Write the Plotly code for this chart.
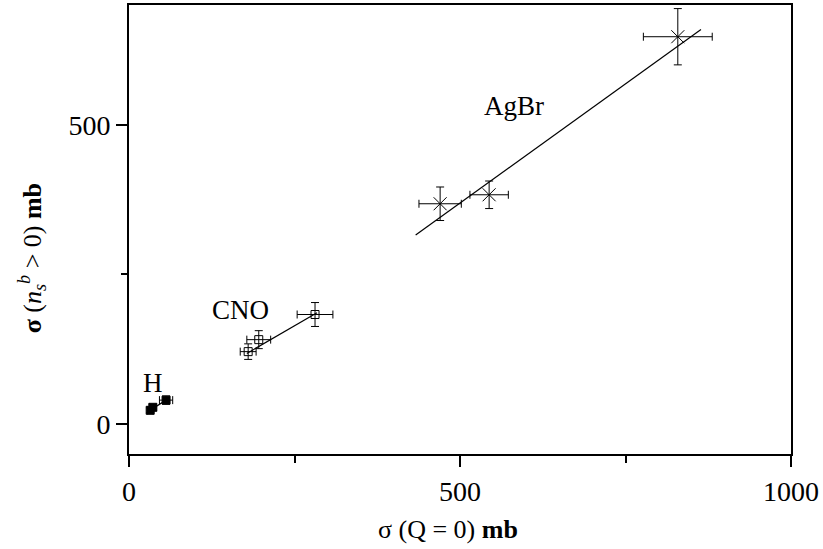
import plotly.graph_objects as go

# ---- data ----
h_x = [32, 36, 56]
h_y = [23, 28, 40]
h_ex = [4, 5, 10]
h_ey = [4, 5, 7]

cno_x = [180, 196, 281]
cno_y = [121, 141, 183]
cno_ex = [12, 18, 27]
cno_ey = [13, 15, 20]

agbr_x = [470, 544, 829]
agbr_y = [368, 383, 647]
agbr_ex = [32, 29, 52]
agbr_ey = [28, 23, 47]

h_fit_x = [32, 56]
h_fit_y = [23, 40]
cno_fit_x = [178, 284]
cno_fit_y = [118, 186]
agbr_fit_x = [433, 864]
agbr_fit_y = [316, 659]

x_ticks = [0, 500, 1000]
y_ticks = [0, 500]

FONT = "Liberation Serif, Times New Roman, serif"
BLACK = "black"

fig = go.Figure()

for fx, fy in [(h_fit_x, h_fit_y), (cno_fit_x, cno_fit_y), (agbr_fit_x, agbr_fit_y)]:
    fig.add_trace(go.Scatter(x=fx, y=fy, mode="lines",
                             line=dict(color=BLACK, width=1.2),
                             showlegend=False, hoverinfo="skip"))

def err(arr):
    return dict(type="data", array=arr, visible=True, color=BLACK,
                thickness=1, width=4)

fig.add_trace(go.Scatter(x=h_x, y=h_y, mode="markers",
                         marker=dict(symbol="square", size=8, color=BLACK,
                                     line=dict(color=BLACK, width=1)),
                         error_x=err(h_ex), error_y=err(h_ey), showlegend=False))
fig.add_trace(go.Scatter(x=cno_x, y=cno_y, mode="markers",
                         marker=dict(symbol="square-open", size=8, color=BLACK,
                                     line=dict(color=BLACK, width=1)),
                         error_x=err(cno_ex), error_y=err(cno_ey), showlegend=False))
fig.add_trace(go.Scatter(x=agbr_x, y=agbr_y, mode="markers",
                         marker=dict(symbol="x-thin", size=13, color=BLACK,
                                     line=dict(color=BLACK, width=1)),
                         error_x=err(agbr_ex), error_y=err(agbr_ey), showlegend=False))

labels = [("H", 36, 68), ("CNO", 168, 190), ("AgBr", 582, 532)]
for txt, lx, ly in labels:
    fig.add_annotation(x=lx, y=ly, text=txt, showarrow=False, xref="x", yref="y",
                       font=dict(family=FONT, size=27, color=BLACK))

fig.add_annotation(text="σ (Q = 0) <b>mb</b>", xref="paper", yref="paper",
                   x=0.482, y=-0.168, yanchor="middle", showarrow=False,
                   font=dict(family=FONT, size=26, color=BLACK))
fig.add_annotation(text="<b>σ</b> (<i>n</i><sub><i>s</i></sub><sup><i>b</i></sup> > 0) <b>mb</b>",
                   xref="paper", yref="paper", x=-0.147, y=0.435,
                   xanchor="center", yanchor="middle", textangle=-90, showarrow=False,
                   font=dict(family=FONT, size=26, color=BLACK))

fig.update_layout(
    width=823, height=549,
    margin=dict(l=129, r=32, t=3, b=95),
    paper_bgcolor="white", plot_bgcolor="white",
    font=dict(family=FONT, size=28, color=BLACK),
)
fig.update_xaxes(range=[0, 1000], tickvals=x_ticks, ticks="outside", ticklen=11,
                 tickwidth=1.5, tickcolor=BLACK, showgrid=False, zeroline=False,
                 showline=True, linecolor=BLACK, linewidth=2, mirror=True,
                 minor=dict(tickvals=[250, 750], ticks="outside", ticklen=7,
                            tickwidth=1.5, tickcolor=BLACK, showgrid=False),
                 tickfont=dict(family=FONT, size=28, color=BLACK))
fig.update_yaxes(range=[-50, 700], tickvals=y_ticks, ticks="outside", ticklen=11,
                 tickwidth=1.5, tickcolor=BLACK, showgrid=False, zeroline=False,
                 showline=True, linecolor=BLACK, linewidth=2, mirror=True,
                 minor=dict(tickvals=[250], ticks="outside", ticklen=6,
                            tickwidth=1.5, tickcolor=BLACK, showgrid=False),
                 tickfont=dict(family=FONT, size=28, color=BLACK))

fig.write_html("out.html")
